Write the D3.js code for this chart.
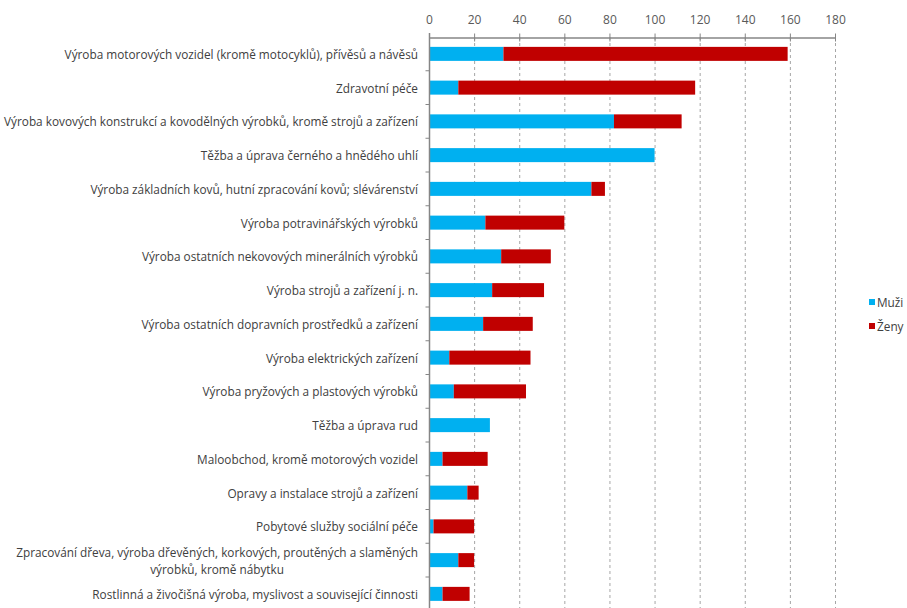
<!DOCTYPE html>
<html>
<head>
<meta charset="utf-8">
<script src="https://cdn.jsdelivr.net/npm/d3@7"></script>
<style>
  html, body { margin: 0; padding: 0; background: #fff; }
  svg { display: block; }
  text { font-family: "Open Sans", "Noto Sans", sans-serif; }
</style>
</head>
<body>
<svg id="chart" width="907" height="608"></svg>
<script>
// Industry categories (top to bottom); "\n" marks a wrapped label line
const categories = [
  "Výroba motorových vozidel (kromě motocyklů), přívěsů a návěsů",
  "Zdravotní péče",
  "Výroba kovových konstrukcí a kovodělných výrobků, kromě strojů a zařízení",
  "Těžba a úprava černého a hnědého uhlí",
  "Výroba základních kovů, hutní zpracování kovů; slévárenství",
  "Výroba potravinářských výrobků",
  "Výroba ostatních nekovových minerálních výrobků",
  "Výroba strojů a zařízení j. n.",
  "Výroba ostatních dopravních prostředků a zařízení",
  "Výroba elektrických zařízení",
  "Výroba pryžových a plastových výrobků",
  "Těžba a úprava rud",
  "Maloobchod, kromě motorových vozidel",
  "Opravy a instalace strojů a zařízení",
  "Pobytové služby sociální péče",
  "Zpracování dřeva, výroba dřevěných, korkových, proutěných a slaměných\nvýrobků, kromě nábytku",
  "Rostlinná a živočišná výroba, myslivost a související činnosti"
];

// Values for men (Muži) and women (Ženy)
const muzi = [33, 13, 82, 100, 72, 25, 32, 28, 24, 9, 11, 27, 6, 17, 2, 13, 6];
const zeny = [126, 105, 30, 0, 6, 35, 22, 23, 22, 36, 32, 0, 20, 5, 18, 7, 12];

const seriesNames = ["Muži", "Ženy"];
const seriesColors = ["#00b0f0", "#c00000"];
const xTicks = [0, 20, 40, 60, 80, 100, 120, 140, 160, 180];

const svg = d3.select("#chart");

const x = d3.scaleLinear().domain([0, 180]).range([429, 835]);
const y = d3.scaleBand().domain(categories)
  .range([37, 37 + 33.75 * categories.length])
  .paddingInner(0.585).paddingOuter(0.2925);

const rows = categories.map((c, i) => ({ cat: c, Muži: muzi[i], Ženy: zeny[i] }));
const stacked = d3.stack().keys(seriesNames)(rows);

// Dashed vertical gridlines
svg.append("g").selectAll("line")
  .data(xTicks.slice(1))
  .join("line")
  .attr("x1", d => x(d) + 0.5).attr("x2", d => x(d) + 0.5)
  .attr("y1", 37).attr("y2", 608)
  .attr("stroke", "#a6a6a6")
  .attr("stroke-width", 1)
  .attr("stroke-dasharray", "3,3");

// Stacked bars
svg.append("g").selectAll("g")
  .data(stacked)
  .join("g")
  .attr("fill", (d, i) => seriesColors[i])
  .selectAll("rect")
  .data(d => d)
  .join("rect")
  .attr("x", d => x(d[0]))
  .attr("width", d => x(d[1]) - x(d[0]))
  .attr("y", d => y(d.data.cat))
  .attr("height", y.bandwidth());

// Top value axis
const xAxis = svg.append("g")
  .attr("transform", "translate(0,37.5)")
  .call(d3.axisTop(x).tickValues(xTicks).tickSize(4).tickSizeOuter(0));
xAxis.select(".domain").attr("stroke", "#868686").attr("stroke-width", 1.5);
xAxis.selectAll(".tick line").attr("stroke", "#868686").attr("y2", 4).attr("y1", -4);
xAxis.selectAll(".tick text")
  .attr("y", -14)
  .attr("fill", "#595959")
  .style("font-size", "12px");

// Category axis: line with ticks at band boundaries
const yAxis = svg.append("g").attr("transform", "translate(429.5,0)");
yAxis.append("line")
  .attr("y1", 33).attr("y2", 608)
  .attr("stroke", "#868686").attr("stroke-width", 1.5);
yAxis.selectAll("line.bt")
  .data(categories.slice(1))
  .join("line")
  .attr("class", "bt")
  .attr("x1", -4).attr("x2", 0)
  .attr("y1", d => y(d) - y.step() * y.paddingInner() / 2)
  .attr("y2", d => y(d) - y.step() * y.paddingInner() / 2)
  .attr("stroke", "#868686");

// Category labels
const labels = svg.append("g").selectAll("text")
  .data(categories)
  .join("text")
  .attr("fill", "#404040")
  .style("font-size", "11.8px")
  .attr("dominant-baseline", "central");

labels.each(function (d) {
  const t = d3.select(this);
  const lines = d.split("\n");
  const cy = y(d) + y.bandwidth() / 2;
  const lh = 17;
  const first = t.append("tspan")
    .attr("x", 418).attr("y", cy - (lines.length - 1) * lh / 2)
    .attr("text-anchor", "end")
    .text(lines[0]);
  const w = first.node().getComputedTextLength();
  lines.slice(1).forEach((ln, k) => {
    t.append("tspan")
      .attr("x", 418 - w / 2)
      .attr("y", cy - (lines.length - 1) * lh / 2 + (k + 1) * lh)
      .attr("text-anchor", "middle")
      .text(ln);
  });
});

// Legend
const legend = svg.append("g").selectAll("g")
  .data(seriesNames)
  .join("g")
  .attr("transform", (d, i) => `translate(869,${299 + i * 24})`);
legend.append("rect")
  .attr("width", 6).attr("height", 6)
  .attr("fill", (d, i) => seriesColors[i]);
legend.append("text")
  .attr("x", 8).attr("y", 3)
  .attr("dominant-baseline", "central")
  .attr("fill", "#404040")
  .style("font-size", "11.8px")
  .text(d => d);
</script>
</body>
</html>
